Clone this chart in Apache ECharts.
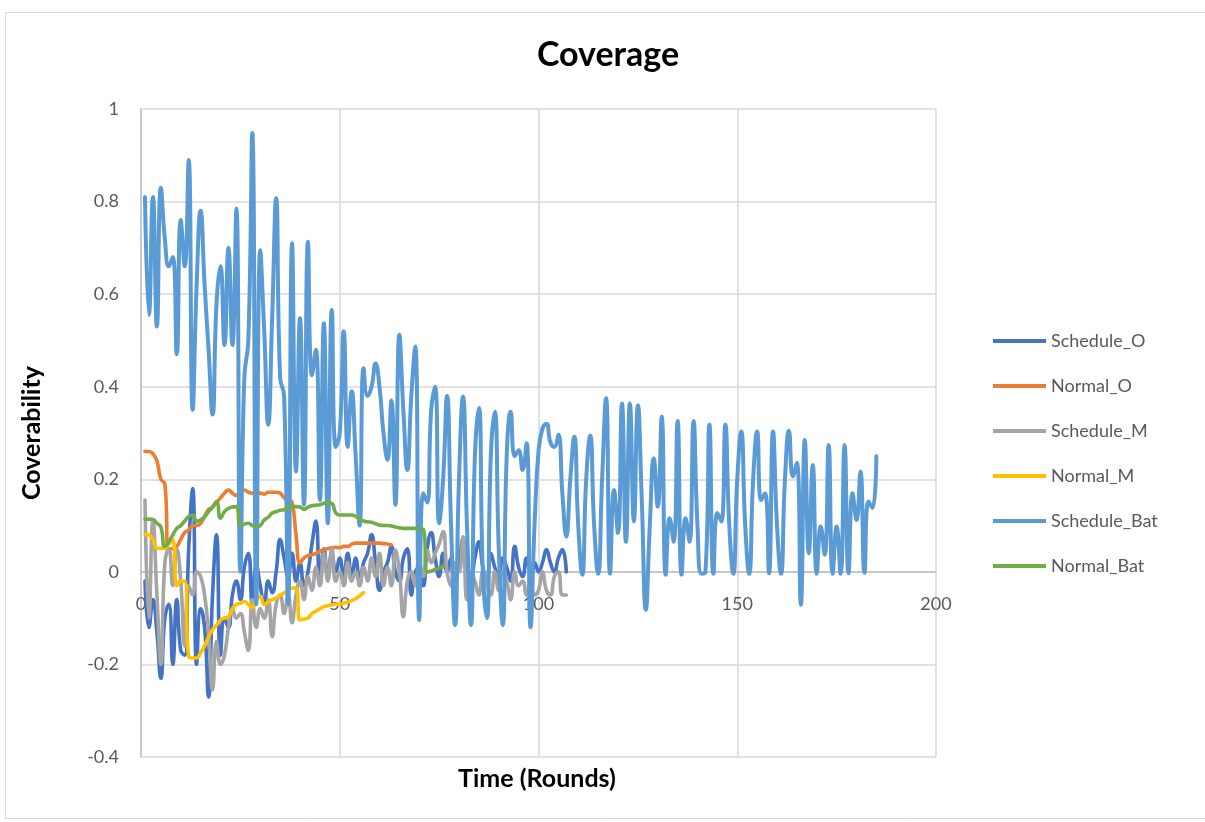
<!DOCTYPE html>
<html>
<head>
<meta charset="utf-8">
<script src="https://cdn.jsdelivr.net/npm/echarts@6/dist/echarts.min.js"></script>
<style>
html,body{margin:0;padding:0;background:#fff;}
#chart{width:1205px;height:822px;}
</style>
</head>
<body>
<div id="chart"></div>
<script>
// ---- Data ----
const xTicks = [0, 50, 100, 150, 200];
const yTicks = [-0.4, -0.2, 0, 0.2, 0.4, 0.6, 0.8, 1];
const seriesNames = ["Schedule_O", "Normal_O", "Schedule_M", "Normal_M", "Schedule_Bat", "Normal_Bat"];

const scheduleO = [
  -0.02,-0.12,-0.06,-0.13,-0.23,-0.10,-0.07,-0.20,-0.06,-0.17,
  -0.18,0.05,0.18,-0.20,-0.08,-0.12,-0.27,-0.05,0.08,-0.18,
  -0.10,-0.12,-0.05,-0.02,-0.06,0.01,0.04,-0.07,0.015,-0.03,
  -0.07,-0.02,-0.045,0.0,0.07,0.03,-0.01,0.04,-0.02,0.02,
  -0.03,0.0,0.06,0.11,-0.02,0.05,-0.01,0.04,0.0,0.03,
  -0.01,0.04,-0.01,0.03,-0.02,0.02,0.04,0.08,0.02,-0.04,
  0.0,0.02,0.055,0.0,-0.02,0.03,0.05,-0.05,0.0,0.01,
  -0.03,0.05,0.085,0.03,-0.01,0.04,0.0,0.03,-0.02,0.02,
  0.07,0.01,-0.01,0.03,0.065,0.01,-0.02,0.04,0.01,-0.01,
  0.03,0.01,-0.02,0.055,0.01,-0.01,0.03,0.0,0.02,0.0,
  0.02,0.048,0.02,0.0,0.03,0.048,0.0
];

const normalO = [
  0.26,0.26,0.255,0.24,0.2,0.19,0.05,0.05,0.055,0.07,
  0.085,0.09,0.1,0.1,0.105,0.12,0.135,0.14,0.15,0.16,
  0.17,0.177,0.17,0.165,0.175,0.177,0.172,0.17,0.168,0.17,
  0.168,0.172,0.172,0.172,0.17,0.16,0.155,0.15,0.08,0.02,
  0.03,0.035,0.037,0.04,0.045,0.048,0.05,0.052,0.053,0.052,
  0.055,0.055,0.06,0.062,0.062,0.062,0.062,0.062,0.062,0.062,
  0.061,0.06,0.058
];

const scheduleM = [
  0.155,-0.10,0.11,-0.05,-0.20,0.02,0.05,-0.03,0.05,-0.02,
  -0.16,-0.03,-0.05,0.0,-0.01,-0.05,-0.13,-0.255,-0.15,-0.20,
  -0.18,-0.12,-0.08,-0.10,-0.09,-0.13,-0.17,-0.06,-0.12,-0.08,
  -0.10,-0.06,-0.14,-0.07,-0.05,-0.09,-0.05,-0.11,-0.05,-0.02,
  -0.06,-0.01,-0.04,0.01,-0.03,0.04,-0.02,0.05,-0.02,0.0,
  -0.03,0.02,-0.02,0.0,-0.03,0.01,-0.02,0.03,-0.01,0.04,
  -0.03,0.01,-0.03,0.047,0.0,-0.097,-0.02,0.0,-0.03,0.02,
  -0.01,0.047,0.02,0.04,0.06,0.087,0.0,-0.03,0.02,0.0,
  0.076,-0.06,0.0,-0.02,-0.05,0.0,-0.03,-0.05,0.0,-0.04,
  0.0,-0.02,-0.06,0.0,-0.03,-0.02,-0.05,-0.02,-0.05,-0.04,
  0.0,-0.04,-0.05,-0.01,0.0,-0.05,-0.05
];

const normalM = [
  0.081,0.08,0.07,0.051,0.051,0.051,0.06,0.069,-0.03,-0.02,
  -0.02,-0.183,-0.186,-0.186,-0.175,-0.16,-0.14,-0.125,-0.115,-0.104,
  -0.1,-0.097,-0.08,-0.07,-0.068,-0.064,-0.07,-0.078,-0.06,-0.053,
  -0.07,-0.065,-0.06,-0.057,-0.05,-0.046,-0.04,-0.035,-0.035,-0.104,
  -0.102,-0.1,-0.09,-0.085,-0.08,-0.075,-0.073,-0.071,-0.07,-0.07,
  -0.068,-0.065,-0.062,-0.058,-0.052,-0.045
];

const scheduleBat = [
  0.81,0.555,0.81,0.53,0.83,0.72,0.66,0.68,0.47,0.76,
  0.66,0.89,0.35,0.62,0.78,0.62,0.48,0.34,0.58,0.66,
  0.49,0.70,0.49,0.785,0.0,0.42,0.5,0.948,-0.07,0.695,
  0.52,0.318,0.55,0.807,0.42,0.38,-0.07,0.71,0.217,0.548,
  0.145,0.713,0.425,0.48,0.155,0.537,0.105,0.566,0.27,0.30,
  0.52,0.27,0.39,0.25,0.10,0.44,0.38,0.40,0.45,0.40,
  0.30,0.242,0.37,0.145,0.512,0.35,0.22,0.38,0.487,-0.104,
  0.17,0.15,0.35,0.40,0.105,0.20,0.38,0.10,-0.115,0.20,
  0.379,0.10,-0.115,0.25,0.354,0.0,-0.10,0.25,0.346,0.05,
  -0.115,0.25,0.346,0.25,0.263,0.22,0.278,-0.12,0.10,0.26,
  0.31,0.32,0.28,0.27,0.296,0.17,0.076,0.20,0.292,0.10,
  -0.006,0.20,0.294,0.10,-0.004,0.20,0.375,-0.004,0.177,0.084,
  0.364,0.065,0.364,0.109,0.36,0.15,-0.082,0.10,0.245,0.141,
  0.335,-0.006,0.116,0.065,0.326,-0.006,0.116,0.065,0.326,0.10,
  -0.004,0.0,0.318,-0.004,0.127,0.109,0.318,0.10,-0.004,0.20,
  0.303,0.10,-0.004,0.20,0.303,0.155,0.17,-0.003,0.303,0.10,
  -0.004,0.20,0.305,0.206,0.235,-0.071,0.285,0.04,0.231,-0.004,
  0.098,0.037,0.274,-0.004,0.098,-0.004,0.274,-0.003,0.17,0.112,
  0.217,-0.002,0.152,0.138,0.25
];

const normalBat = [
  0.114,0.114,0.113,0.105,0.097,0.055,0.065,0.08,0.094,0.1,
  0.11,0.12,0.123,0.109,0.112,0.119,0.13,0.14,0.152,0.116,
  0.13,0.137,0.14,0.141,0.101,0.103,0.105,0.1,0.097,0.1,
  0.112,0.118,0.127,0.13,0.133,0.134,0.14,0.141,0.141,0.14,
  0.135,0.14,0.143,0.144,0.145,0.148,0.149,0.148,0.127,0.123,
  0.123,0.123,0.123,0.12,0.114,0.11,0.108,0.107,0.104,0.101,
  0.1,0.1,0.099,0.097,0.095,0.094,0.094,0.094,0.094,0.093,
  0.092,0.0,0.002,0.005,0.008,0.011
];

const seriesValues = [scheduleO, normalO, scheduleM, normalM, scheduleBat, normalBat];
const colors = ["#4472C4", "#ED7D31", "#A5A5A5", "#FFC000", "#5B9BD5", "#70AD47"];

// ---- Chart ----
const chart = echarts.init(document.getElementById('chart'));
const FONT = 'Lato, "Open Sans", sans-serif';

const GRID_TOP = 109, GRID_BOTTOM = 65, GRID_H = 822 - GRID_TOP - GRID_BOTTOM;
const yMin = yTicks[0], yMax = yTicks[yTicks.length - 1];
// move the x axis up to the y = 0 line (as Excel does)
const zeroOffset = -GRID_H * (0 - yMin) / (yMax - yMin);

const series = seriesNames.map((name, i) => ({
  name: name,
  type: 'line',
  smooth: 0.5,
  symbol: 'none',
  data: seriesValues[i].map((v, k) => [k + 1, v]),
  lineStyle: { color: colors[i], width: i === 4 ? 4 : 3.6, cap: 'round', join: 'round' },
  itemStyle: { color: colors[i] },
  emphasis: { disabled: true },
  animation: false
}));

chart.setOption({
  animation: false,
  backgroundColor: '#fff',
  color: colors,
  grid: { left: 141, right: 269, top: GRID_TOP, bottom: GRID_BOTTOM, containLabel: false },
  xAxis: {
    type: 'value',
    position: 'bottom',
    offset: zeroOffset,
    min: xTicks[0],
    max: xTicks[xTicks.length - 1],
    interval: 50,
    axisLine: { show: true, onZero: false, lineStyle: { color: '#BFBFBF', width: 1.5 } },
    axisTick: { show: false },
    axisLabel: { fontFamily: FONT, fontSize: 18, color: '#595959', margin: 23 },
    splitLine: { show: true, lineStyle: { color: '#D9D9D9', width: 1.5 } }
  },
  yAxis: {
    type: 'value',
    min: yMin,
    max: yMax,
    interval: 0.2,
    axisLine: { show: true, lineStyle: { color: '#BFBFBF', width: 1.5 } },
    axisTick: { show: false },
    axisLabel: {
      fontFamily: FONT, fontSize: 18, color: '#595959', margin: 22,
      formatter: v => String(+v.toFixed(1))
    },
    splitLine: { show: true, lineStyle: { color: '#D9D9D9', width: 1.5 } }
  },
  legend: {
    orient: 'vertical',
    left: 988,
    top: 326,
    itemWidth: 53,
    itemHeight: 4,
    itemGap: 25,
    icon: 'rect',
    data: seriesNames,
    textStyle: { fontFamily: FONT, fontSize: 18, color: '#595959', lineHeight: 20 }
  },
  graphic: [
    { type: 'rect', left: 3, top: 10, shape: { width: 1215, height: 806 },
      style: { fill: 'none', stroke: '#D9D9D9', lineWidth: 1 }, silent: true, z: -1 },
    { type: 'text', x: 608, y: 55, silent: true,
      style: { text: 'Coverage', fontFamily: FONT, fontSize: 34, fontWeight: 'bold', fill: '#000',
               align: 'center', verticalAlign: 'middle' } },
    { type: 'text', x: 537, y: 779, silent: true,
      style: { text: 'Time (Rounds)', fontFamily: FONT, fontSize: 25, fontWeight: 'bold', fill: '#000',
               align: 'center', verticalAlign: 'middle' } },
    { type: 'text', x: 32, y: 433, rotation: Math.PI / 2, silent: true,
      style: { text: 'Coverability', fontFamily: FONT, fontSize: 25, fontWeight: 'bold', fill: '#000',
               align: 'center', verticalAlign: 'middle' } }
  ],
  series: series
});
</script>
</body>
</html>
